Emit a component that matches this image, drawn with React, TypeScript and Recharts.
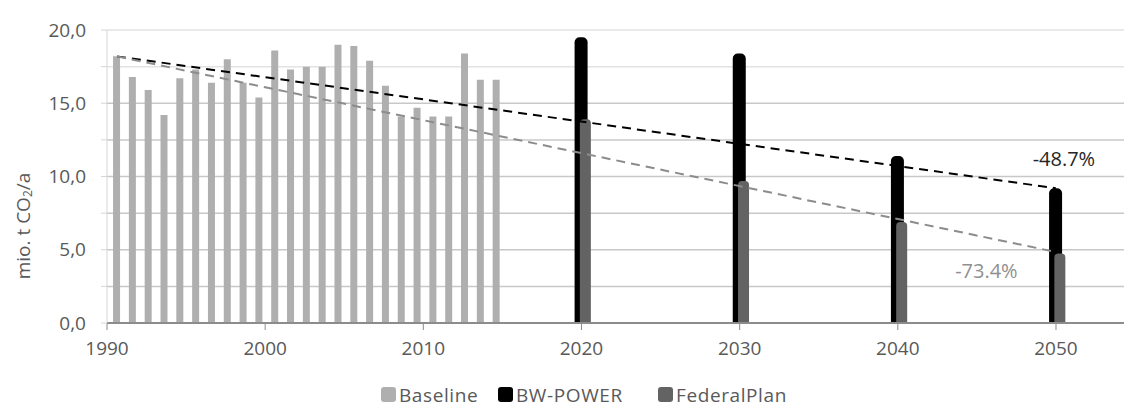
import {
  Bar,
  CartesianGrid,
  ComposedChart,
  Legend,
  Line,
  ReferenceDot,
  XAxis,
  YAxis,
} from "recharts";

const baselineYears = [
  1990, 1991, 1992, 1993, 1994, 1995, 1996, 1997, 1998, 1999, 2000, 2001, 2002,
  2003, 2004, 2005, 2006, 2007, 2008, 2009, 2010, 2011, 2012, 2013, 2014,
];
const baselineValues = [
  18.2, 16.8, 15.9, 14.2, 16.7, 17.3, 16.4, 18.0, 16.4, 15.4, 18.6, 17.3, 17.5,
  17.5, 19.0, 18.9, 17.9, 16.2, 14.1, 14.7, 14.1, 14.1, 18.4, 16.6, 16.6,
];

const scenarioYears = [2020, 2030, 2040, 2050];
const bwPowerValues = [19.5, 18.4, 11.4, 9.2];
const federalPlanValues = [13.9, 9.7, 6.9, 4.75];

// dashed reduction trend lines, 1990 -> 2050
const trendYears = [1990, 2050];
const trendBw = [18.2, 9.2];
const trendFp = [18.2, 4.85];

const xTicks = [1990, 2000, 2010, 2020, 2030, 2040, 2050];
const yTicks = [0, 2.5, 5, 7.5, 10, 12.5, 15, 17.5, 20];

const data = [
  ...baselineYears.map((year, i) => ({ year, baseline: baselineValues[i] })),
  ...scenarioYears.map((year, i) => ({
    year,
    bw: bwPowerValues[i],
    fp: federalPlanValues[i],
  })),
];

const trendData = trendYears.map((year, i) => ({
  year,
  tBw: trendBw[i],
  tFp: trendFp[i],
}));

const FONT = "'Open Sans', sans-serif";
const TEXT = "#595959";
const FS = 19;

const legendItems = [
  { name: "Baseline", color: "#afafaf", width: 117 },
  { name: "BW-POWER", color: "#000000", width: 160 },
  { name: "FederalPlan", color: "#636363", width: 160 },
];

function LegendContent() {
  return (
    <div
      style={{
        display: "flex",
        height: 45,
        alignItems: "center",
        fontFamily: FONT,
        fontSize: FS,
        lineHeight: 1.2,
        color: TEXT,
        paddingLeft: 381,
        paddingTop: 19,
        boxSizing: "border-box",
        letterSpacing: 0.6,
      }}
    >
      {legendItems.map((it) => (
        <div
          key={it.name}
          style={{ display: "flex", alignItems: "center", width: it.width }}
        >
          <span
            style={{
              display: "inline-block",
              width: 15,
              height: 15,
              borderRadius: 3,
              background: it.color,
              marginRight: 3,
            }}
          />
          {it.name}
        </div>
      ))}
    </div>
  );
}

function GridLine(props: any) {
  const { x1, y1, x2, y2 } = props;
  return (
    <line
      x1={x1}
      y1={y1}
      x2={x2}
      y2={y2}
      stroke={y1 < 80 ? "#e3e3e3" : "#c8c8c8"}
      strokeWidth={1.5}
    />
  );
}

export default function App() {
  return (
    <div style={{ position: "absolute", left: 0, top: 0, background: "#fff" }}>
      <ComposedChart
        width={1124}
        height={408}
        data={data}
        margin={{ top: 30, right: 0, left: 0, bottom: 0 }}
      >
        <CartesianGrid vertical={false} horizontal={GridLine as any} />
        <XAxis
          xAxisId="base"
          type="number"
          dataKey="year"
          domain={[1989.37, 2053.67]}
          allowDataOverflow
          height={0}
          hide
        />
        <XAxis
          xAxisId="fp"
          type="number"
          dataKey="year"
          domain={[1989.73, 2054.03]}
          allowDataOverflow
          height={0}
          hide
        />
        <XAxis
          xAxisId="trend"
          type="number"
          dataKey="year"
          domain={[1989.36, 2054.36]}
          allowDataOverflow
          height={0}
          hide
        />
        <XAxis
          xAxisId="main"
          type="number"
          dataKey="year"
          domain={[1990, 2054.3]}
          ticks={xTicks}
          allowDataOverflow
          height={40}
          axisLine={{ stroke: "#8c8c8c", strokeWidth: 2 }}
          tickLine={{ stroke: "#8c8c8c" }}
          tickSize={7}
          tickMargin={12}
          tick={{ fill: TEXT, fontSize: FS, fontFamily: FONT }}
        />
        <YAxis
          type="number"
          domain={[0, 20]}
          ticks={yTicks}
          width={107}
          axisLine={{ stroke: "#d6d6d6" }}
          tickLine={{ stroke: "#d6d6d6" }}
          tickSize={6}
          tickMargin={15}
          tick={{ fill: TEXT, fontSize: FS, fontFamily: FONT }}
          tickFormatter={(v: number) =>
            v % 5 === 0 ? v.toFixed(1).replace(".", ",") : ""
          }
          label={{
            content: () => (
              <text
                x={23}
                y={226}
                transform="rotate(-90 23 226)"
                textAnchor="middle"
                dominantBaseline="central"
                fill={TEXT}
                fontSize={FS}
                fontFamily={FONT}
              >
                mio. t CO
                <tspan fontSize={12} dy={4}>
                  2
                </tspan>
                <tspan dy={-4}>/a</tspan>
              </text>
            ),
          }}
        />
        <Line
          xAxisId="trend"
          data={trendData}
          dataKey="tBw"
          stroke="#000000"
          strokeWidth={2}
          strokeDasharray="9 6"
          dot={false}
          legendType="none"
          isAnimationActive={false}
        />
        <Line
          xAxisId="trend"
          data={trendData}
          dataKey="tFp"
          stroke="#8c8c8c"
          strokeWidth={2}
          strokeDasharray="9 6"
          dot={false}
          legendType="none"
          isAnimationActive={false}
        />
        <Bar
          xAxisId="base"
          dataKey="baseline"
          name="Baseline"
          fill="#afafaf"
          barSize={7}
          isAnimationActive={false}
        />
        <Bar
          xAxisId="main"
          dataKey="bw"
          name="BW-POWER"
          fill="#000000"
          barSize={13}
          radius={[5, 5, 0, 0]}
          isAnimationActive={false}
        />
        <Bar
          xAxisId="fp"
          dataKey="fp"
          name="FederalPlan"
          fill="#636363"
          barSize={11}
          radius={[4, 4, 0, 0]}
          isAnimationActive={false}
        />
        <ReferenceDot
          xAxisId="main"
          x={2050.5}
          y={11.19}
          r={0}
          ifOverflow="visible"
          label={{
            value: "-48.7%",
            fill: "#262626",
            fontSize: 20,
            fontFamily: FONT,
          }}
        />
        <ReferenceDot
          xAxisId="main"
          x={2045.6}
          y={3.53}
          r={0}
          ifOverflow="visible"
          label={{
            value: "-73.4%",
            fill: "#8f8f8f",
            fontSize: 20,
            fontFamily: FONT,
          }}
        />
        <Legend verticalAlign="bottom" height={45} content={<LegendContent />} />
      </ComposedChart>
    </div>
  );
}
